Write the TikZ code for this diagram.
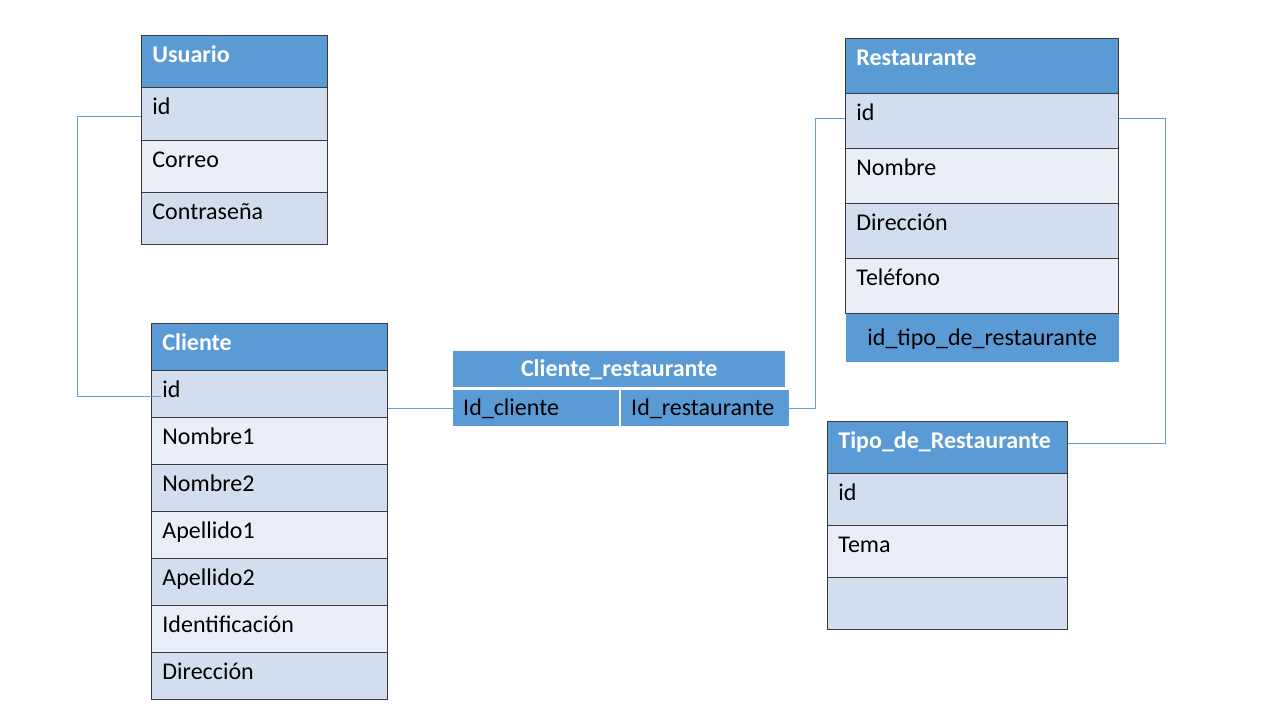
\documentclass[tikz,border=0pt]{standalone}
\usepackage{fontspec}
\setmainfont{Carlito}
\definecolor{hblue}{HTML}{5B9BD5}
\definecolor{rowdark}{HTML}{D2DEEF}
\definecolor{rowlight}{HTML}{EAEFF7}
\definecolor{edge}{HTML}{3A3A3A}
\definecolor{connc}{HTML}{6A9ED3}
\tikzset{
  cell/.style={draw=edge, line width=0.9pt, anchor=north west, inner xsep=11pt, inner ysep=0pt,
    align=left, text height=27pt, font=\fontsize{24}{28}\selectfont},
  hdr/.style={cell, fill=hblue, text=white, font=\fontsize{24}{28}\selectfont\bfseries},
  dk/.style={cell, fill=rowdark},
  lt/.style={cell, fill=rowlight},
  usz/.style={text width=164pt, text depth=25.3pt},
  csz/.style={text width=214pt, text depth=20pt},
  rsz/.style={text width=251pt, text depth=28pt},
  tsz/.style={text width=218pt, text depth=25pt},
  jhdr/.style={anchor=north west, fill=hblue, inner xsep=0pt, inner ysep=0pt, text height=25pt, text depth=11pt,
    align=center, text=white, font=\fontsize{24}{28}\selectfont\bfseries},
  jcell/.style={anchor=north west, fill=hblue, inner xsep=10pt, inner ysep=0pt, text height=25pt, text depth=11pt,
    align=left, font=\fontsize{24}{28}\selectfont},
  conn/.style={draw=connc, line width=0.9pt},
}
\begin{document}
\begin{tikzpicture}[x=1pt,y=-1pt]
\useasboundingbox[fill=white] (0,0) rectangle (1280,720);
% Usuario
\node[hdr,usz] (u) at (141,35) {Usuario};
\node[dk,usz] (uid) at (141,87.3) {id};
\node[lt,usz] (ucor) at (141,139.6) {Correo};
\node[dk,usz] (ucon) at (141,191.9) {Contraseña};
% Cliente
\node[hdr,csz] (c) at (151,323) {Cliente};
\node[dk,csz] (cid) at (151,370) {id};
\node[lt,csz] (cn1) at (151,417) {Nombre1};
\node[dk,csz] (cn2) at (151,464) {Nombre2};
\node[lt,csz] (ca1) at (151,511) {Apellido1};
\node[dk,csz] (ca2) at (151,558) {Apellido2};
\node[lt,csz] (cide) at (151,605) {Identificación};
\node[dk,csz] (cdir) at (151,652) {Dirección};
% Restaurante
\node[hdr,rsz] (r) at (845,38) {Restaurante};
\node[dk,rsz] (rid) at (845,93) {id};
\node[lt,rsz] (rnom) at (845,148) {Nombre};
\node[dk,rsz] (rdir) at (845,203) {Dirección};
\node[lt,rsz] (rtel) at (845,258) {Teléfono};
\node[jhdr, text=black, font=\fontsize{24}{28}\selectfont, text width=273pt, text height=32pt, text depth=16pt] (rtipo) at (845.5,313.5) {id\_tipo\_de\_restaurante};
% Tipo_de_Restaurante
\node[hdr,tsz] (t) at (827,421) {Tipo\_de\_Restaurante};
\node[dk,tsz] (tid) at (827,473) {id};
\node[lt,tsz] (ttema) at (827,525) {Tema};
\node[dk,tsz] (tvac) at (827,577) {};
% Cliente_restaurante
\node[jhdr, text width=332pt] (cr) at (453,351) {Cliente\_restaurante};
\node[jcell, text width=146pt] (idc) at (453,390) {Id\_cliente};
\node[jcell, text width=148pt] (idr) at (621,390) {Id\_restaurante};
% connectors
\draw[conn] (uid.west) ++(0,2.5) -- ++(-64,0) |- ([xshift=10pt,yshift=-2.5pt]cid.west);
\draw[conn] (cid.east |- idc.west) -- (idc.west);
\draw[conn] (idr.east) -- ++(26,0) |- ([yshift=3pt]rid.west);
\draw[conn] ([yshift=3pt]rid.east) -- ++(47,0) |- ([yshift=4pt]t.east);
\end{tikzpicture}
\end{document}
